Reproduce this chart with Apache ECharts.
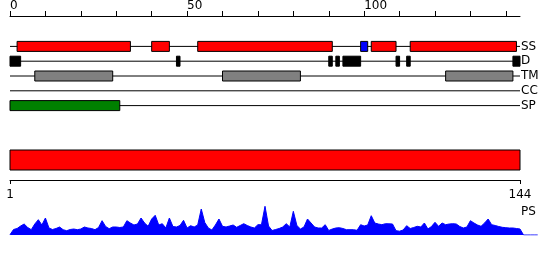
<!DOCTYPE html>
<html>
<head>
<meta charset="utf-8">
<script src="https://cdn.jsdelivr.net/npm/echarts@6/dist/echarts.min.js"></script>
<style>
html,body{margin:0;padding:0;background:#fff;}
#chart{width:550px;height:260px;}
</style>
</head>
<body>
<div id="chart"></div>
<script>
// ---- data ----
const seqLength = 144;
const trackRows = ['SS', 'D', 'TM', 'CC', 'SP'];
const topTickValues = [0, 10, 20, 30, 40, 50, 60, 70, 80, 90, 100, 110, 120, 130, 140];
const topLabelValues = [0, 50, 100];
const posLabelValues = [1, 144];
const ssHelix = [[2, 34], [40, 45], [53, 91], [102, 109], [113, 143]];
const ssStrand = [[99, 101]];
const disorder = [[0, 3], [47, 48], [90, 91], [92, 93], [94, 99], [109, 110], [112, 113], [142, 144]];
const transmem = [[7, 29], [60, 82], [123, 142]];
const coiledCoil = [];
const signalPep = [[0, 31]];
const fullChain = [[0, 144]];
const psValues = [0.3, 5.5, 6.5, 9, 11, 7.5, 5.3, 11, 15.3, 10, 17, 7, 5.5, 6.5, 8, 5.3, 4.3, 5.5, 6, 5.3,
  6, 8, 7, 6.5, 5.3, 7.5, 14.3, 8.5, 6.3, 8, 8, 7.5, 8, 14.3, 12, 10, 11, 17, 12, 8.7,
  16, 19.7, 10, 11.3, 7, 17, 8.5, 8, 9.5, 14.7, 7, 9.3, 8, 10, 26, 12.5, 7, 5, 10, 16,
  8.7, 8, 9, 10, 7.7, 9.5, 11.3, 9.5, 8, 7, 10.3, 10.3, 28.7, 9, 4.5, 5.5, 6.5, 8, 11.3, 8,
  23.7, 9.5, 6, 8, 16, 12, 8, 7, 7, 10.3, 4.5, 6, 7, 7.3, 6.5, 5.3, 5.3, 5.3, 4.7, 10.3,
  9, 10, 19.3, 12, 11, 10.3, 11.3, 11.2, 11, 4.3, 3.8, 5, 9.3, 6.5, 7.5, 8.7, 8, 12, 6, 8.5,
  12.7, 8.7, 12, 10.3, 11, 11.3, 11, 8.5, 7, 8, 14.3, 12, 10, 8.7, 12, 16, 10.3, 9.5, 8.5, 7.7,
  7.3, 7, 7, 6.5, 6, 0, 0, 0, 0, 0];

// ---- build ----
const COLORS = { H: '#ff0000', E: '#0000ff', D: '#000000', TM: '#808080', SP: '#008000', FULL: '#ff0000' };
const boxes = [];
ssHelix.forEach(s => boxes.push([s[0], s[1], 'SS', 'H']));
ssStrand.forEach(s => boxes.push([s[0], s[1], 'SS', 'E']));
disorder.forEach(s => boxes.push([s[0], s[1], 'D', 'D']));
transmem.forEach(s => boxes.push([s[0], s[1], 'TM', 'TM']));
coiledCoil.forEach(s => boxes.push([s[0], s[1], 'CC', 'H']));
signalPep.forEach(s => boxes.push([s[0], s[1], 'SP', 'SP']));
const rowLines = trackRows.map(r => [0, seqLength, r]);
const psData = psValues.map((v, i) => [i, v]);

const FONT = 'DejaVu Sans';
const L = 10, W = 510, PX = W / seqLength;

const chart = echarts.init(document.getElementById('chart'), null, { renderer: 'canvas' });
chart.setOption({
  animation: false,
  backgroundColor: '#ffffff',
  grid: [
    { left: L, width: W, top: 38, height: 75 },
    { left: L, width: W, top: 150, height: 20 },
    { left: L, width: W, top: 179, height: 1 },
    { left: L, width: PX * (psValues.length - 1), top: 205, height: 30 }
  ],
  xAxis: [
    {
      gridIndex: 0, type: 'value', min: 0, max: seqLength, position: 'top', offset: 23,
      axisLine: { show: true, lineStyle: { color: '#000', width: 1 } },
      axisTick: { show: true, length: 5, lineStyle: { color: '#000' }, customValues: topTickValues },
      axisLabel: { show: true, customValues: topLabelValues, align: 'left', margin: 4, color: '#000', fontFamily: FONT, fontSize: 12 },
      splitLine: { show: false }
    },
    { gridIndex: 1, type: 'value', min: 0, max: seqLength, show: false },
    {
      gridIndex: 2, type: 'value', min: posLabelValues[0], max: posLabelValues[1], position: 'bottom',
      axisLine: { show: true, lineStyle: { color: '#000', width: 1 } },
      axisTick: { show: true, length: 4, lineStyle: { color: '#000' }, customValues: posLabelValues },
      axisLabel: { show: true, customValues: posLabelValues, margin: 9, color: '#000', fontFamily: FONT, fontSize: 12 },
      splitLine: { show: false }
    },
    { gridIndex: 3, type: 'value', min: 0, max: psValues.length - 1, show: false }
  ],
  yAxis: [
    {
      gridIndex: 0, type: 'category', data: trackRows, inverse: true, position: 'right',
      axisLine: { show: false }, axisTick: { show: false },
      axisLabel: { interval: 0, margin: 1, color: '#000', fontFamily: FONT, fontSize: 12 },
      splitLine: { show: false }
    },
    { gridIndex: 1, type: 'value', min: 0, max: 1, show: false },
    { gridIndex: 2, type: 'value', min: 0, max: 1, show: false },
    { gridIndex: 3, type: 'value', min: 0, max: 30, show: false }
  ],
  graphic: [
    { type: 'text', left: 521, top: 206, style: { text: 'PS', fill: '#000', font: '12px "DejaVu Sans"' } }
  ],
  series: [
    {
      type: 'custom', xAxisIndex: 0, yAxisIndex: 0, z: 1,
      data: rowLines,
      renderItem: function (params, api) {
        const a = api.coord([api.value(0), api.value(2)]);
        const b = api.coord([api.value(1), api.value(2)]);
        return { type: 'line', shape: { x1: a[0], y1: a[1], x2: b[0], y2: b[1] }, style: { stroke: '#000', lineWidth: 1 } };
      }
    },
    {
      type: 'custom', xAxisIndex: 0, yAxisIndex: 0, z: 2,
      data: boxes,
      renderItem: function (params, api) {
        const a = api.coord([api.value(0), api.value(2)]);
        const b = api.coord([api.value(1), api.value(2)]);
        const key = boxes[params.dataIndex][3];
        return { type: 'rect', shape: { x: a[0], y: a[1] - 5, width: b[0] - a[0], height: 10 },
          style: { fill: COLORS[key], stroke: '#000', lineWidth: 1 } };
      }
    },
    {
      type: 'custom', xAxisIndex: 1, yAxisIndex: 1,
      data: fullChain,
      renderItem: function (params, api) {
        const a = api.coord([api.value(0), 1]);
        const b = api.coord([api.value(1), 0]);
        return { type: 'rect', shape: { x: a[0], y: a[1], width: b[0] - a[0], height: b[1] - a[1] },
          style: { fill: COLORS.FULL, stroke: '#000', lineWidth: 1 } };
      }
    },
    {
      type: 'line', xAxisIndex: 3, yAxisIndex: 3, data: psData,
      showSymbol: false, symbol: 'none', smooth: false,
      lineStyle: { color: '#0000ff', width: 1 },
      areaStyle: { color: '#0000ff', opacity: 1 }
    }
  ]
});
</script>
</body>
</html>
